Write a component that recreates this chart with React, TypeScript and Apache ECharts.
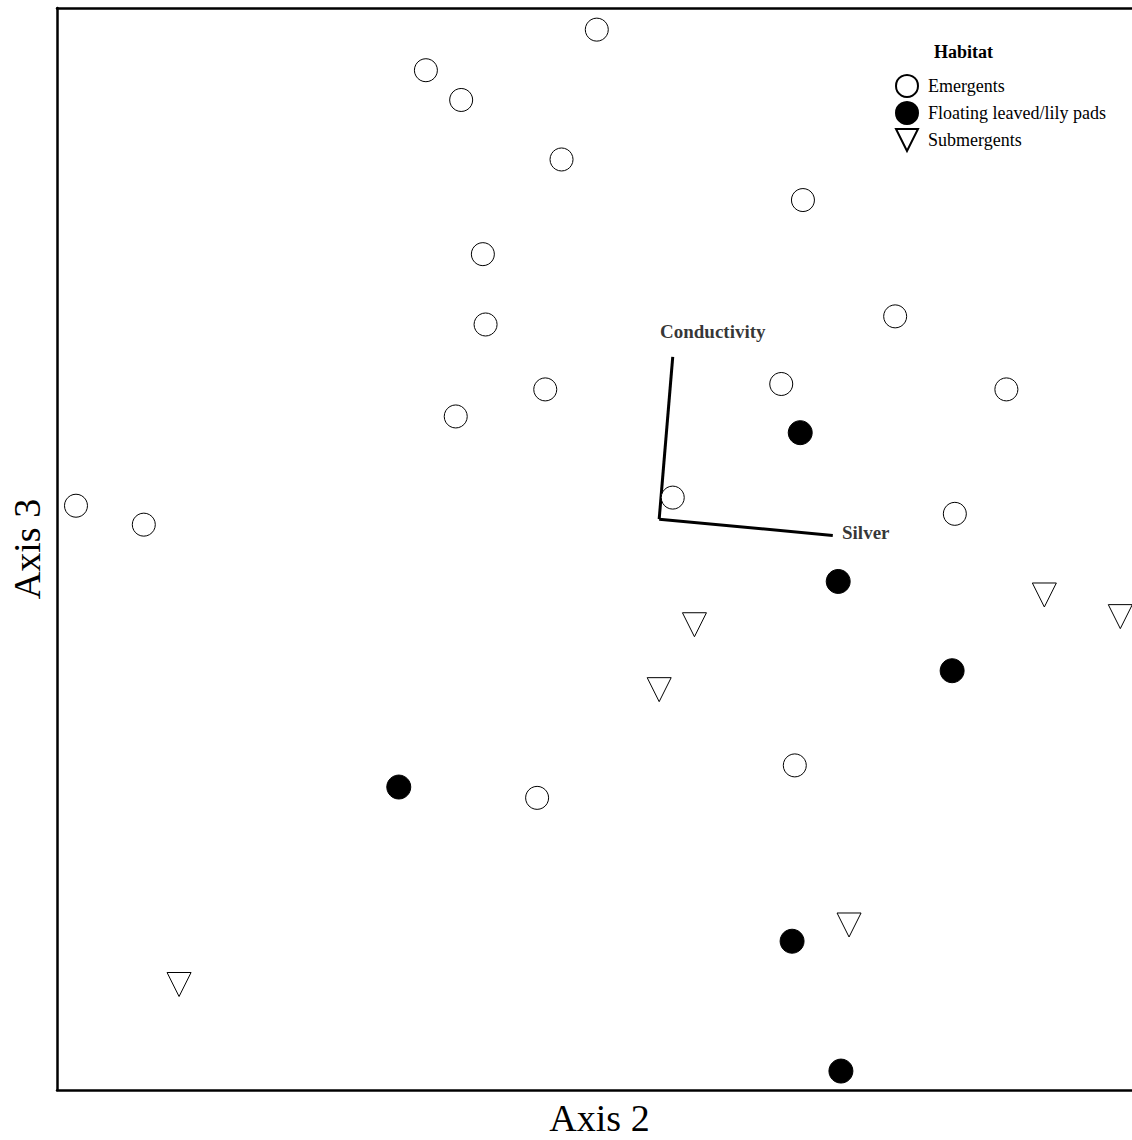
import React, { useEffect, useRef } from "react";
import * as echarts from "echarts";

const FONT = "'Liberation Serif', 'Times New Roman', serif";

// Axis 2 (x), Axis 3 (y) ordination scores
const emergents: [number, number][] = [
  [-0.01, 1.92], [-0.64, 1.77], [-0.51, 1.66], [-0.14, 1.44], [0.75, 1.29],
  [-0.43, 1.09], [-0.42, 0.83], [1.09, 0.86], [-0.2, 0.59], [0.67, 0.61],
  [1.5, 0.59], [-0.53, 0.49], [0.27, 0.19], [-1.93, 0.16], [-1.68, 0.09],
  [1.31, 0.13], [0.72, -0.8], [-0.23, -0.92],
];
const floating: [number, number][] = [
  [0.74, 0.43], [0.88, -0.12], [1.3, -0.45], [-0.74, -0.88], [0.71, -1.45], [0.89, -1.93],
];
const submergents: [number, number][] = [
  [1.64, -0.17], [1.92, -0.25], [0.35, -0.28], [0.22, -0.52], [0.92, -1.39], [-1.55, -1.61],
];
const vectorOrigin: [number, number] = [0.22, 0.11];
const vectorNames = ["Conductivity", "Silver"];
const vectorEnds: [number, number][] = [[0.27, 0.71], [0.86, 0.05]];
const vectorLabelOffsets: [number, number][] = [[40, -25], [33, -3]];
const habitatNames = ["Emergents", "Floating leaved/lily pads", "Submergents"];

const TRI_DOWN = "path://M0,0 L10,0 L5,10 Z";

export default function App() {
  const ref = useRef<HTMLDivElement>(null);
  useEffect(() => {
    if (!ref.current) return;
    const chart = echarts.init(ref.current, null, { renderer: "svg" });
    const axisLine = { show: true, onZero: false, lineStyle: { color: "#000", width: 2.5 } };
    const hidden = {
      axisTick: { show: false },
      axisLabel: { show: false },
      splitLine: { show: false },
    };
    const vectorSeries = vectorEnds.map((end, i) => ({
      type: "line",
      name: vectorNames[i],
      data: [vectorOrigin, end],
      symbol: "none",
      lineStyle: { color: "#000", width: 3 },
      silent: true,
      z: 1,
    }));
    chart.setOption({
      animation: false,
      backgroundColor: "#fff",
      title: {
        text: "Habitat",
        left: 929,
        top: 38,
        textStyle: { fontFamily: FONT, fontWeight: "bold", fontSize: 18, color: "#000" },
      },
      legend: {
        data: habitatNames,
        orient: "vertical",
        left: 890,
        top: 69,
        itemWidth: 32,
        itemHeight: 22,
        itemGap: 3,
        textStyle: { fontFamily: FONT, fontSize: 18, color: "#000" },
      },
      grid: { left: 57, top: 8, height: 1082, width: 1085, outerBoundsMode: "none", containLabel: false },
      xAxis: [
        {
          type: "value", min: -2, max: 2, position: "bottom",
          axisLine, ...hidden,
          name: "Axis 2", nameLocation: "middle", nameGap: 9,
          nameTextStyle: { fontFamily: FONT, fontSize: 38, color: "#000", verticalAlign: "top" },
        },
        { type: "value", min: -2, max: 2, position: "top", axisLine, ...hidden },
      ],
      yAxis: {
        type: "value", min: -2, max: 2, position: "left",
        axisLine, ...hidden,
        name: "Axis 3", nameLocation: "middle", nameGap: 11,
        nameTextStyle: { fontFamily: FONT, fontSize: 38, color: "#000" },
      },
      series: [
        ...vectorSeries,
        {
          type: "scatter",
          name: "vectorLabels",
          data: vectorEnds.map((end, i) => ({
            value: end,
            name: vectorNames[i],
            label: { offset: vectorLabelOffsets[i] },
          })),
          symbolSize: 0,
          silent: true,
          label: {
            show: true,
            position: "inside",
            formatter: "{b}",
            fontFamily: FONT,
            fontWeight: "bold",
            fontSize: 19,
            color: "#000",
          },
        },
        {
          type: "scatter",
          name: "Emergents",
          data: emergents,
          symbol: "circle",
          symbolSize: 23,
          itemStyle: { color: "#fff", borderColor: "#000", borderWidth: 1, opacity: 1 },
          z: 3,
        },
        {
          type: "scatter",
          name: "Floating leaved/lily pads",
          data: floating,
          symbol: "circle",
          symbolSize: 24,
          itemStyle: { color: "#000", borderColor: "#000", borderWidth: 1, opacity: 1 },
          z: 3,
        },
        {
          type: "scatter",
          name: "Submergents",
          data: submergents,
          symbol: TRI_DOWN,
          symbolSize: [24, 24],
          itemStyle: { color: "#fff", borderColor: "#000", borderWidth: 1, opacity: 1 },
          z: 3,
        },
      ],
    });
    return () => chart.dispose();
  }, []);
  return (
    <div
      ref={ref}
      style={{ position: "fixed", left: 0, top: 0, width: 1132, height: 1140, background: "#fff" }}
    />
  );
}
